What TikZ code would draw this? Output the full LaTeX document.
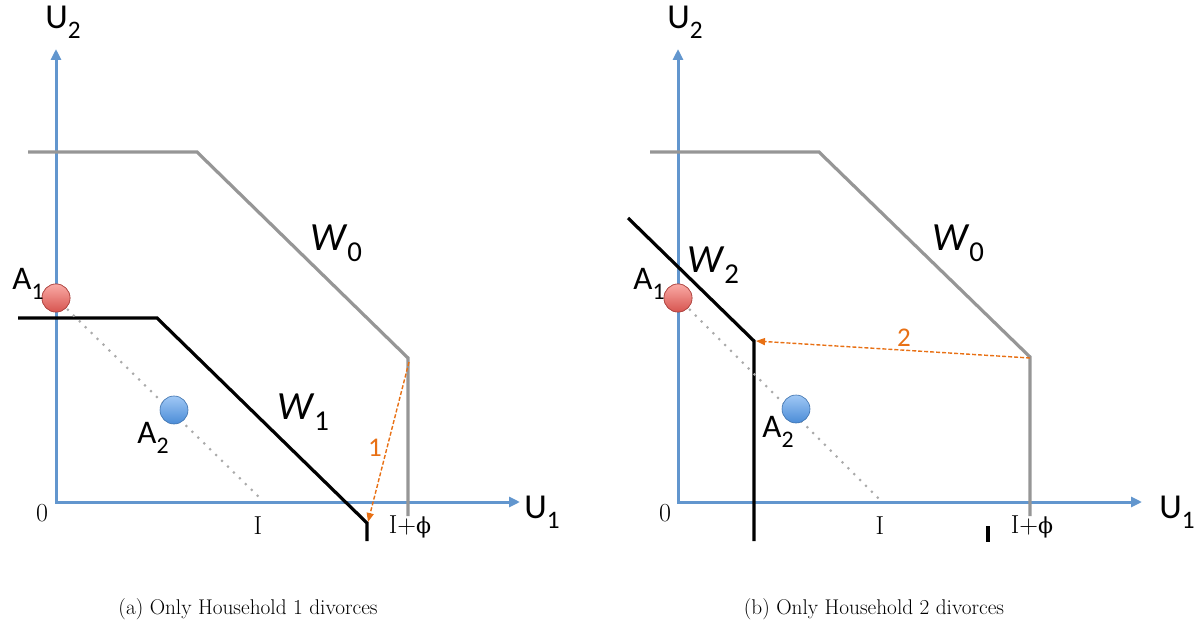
\documentclass[tikz,border=0pt]{standalone}
\usepackage{fontspec}
\newfontfamily\carl{Carlito}
\newfontfamily\dvserif{DejaVu Serif}
\usetikzlibrary{arrows.meta}
\definecolor{axisblue}{RGB}{98,150,206}
\definecolor{wgray}{RGB}{150,150,150}
\definecolor{dotgray}{RGB}{170,170,170}
\definecolor{arrorange}{RGB}{232,112,20}
\definecolor{redlight}{RGB}{250,170,165}
\definecolor{reddark}{RGB}{215,85,80}
\definecolor{bluelight}{RGB}{160,200,245}
\definecolor{bluedark}{RGB}{75,140,215}
\newcommand\sbs[1]{\raisebox{-0.28em}{\scalebox{0.72}{#1}}}
\tikzset{
  axis/.style={draw=axisblue, line width=3pt, {Triangle[length=11pt,width=10pt]}-{Triangle[length=11pt,width=10pt]}},
  wzero/.style={draw=wgray, line width=3.2pt},
  wone/.style={draw=black, line width=3.2pt},
  dotl/.style={draw=dotgray, line width=3pt, line cap=round, dash pattern=on 0pt off 8.3pt},
  oarrow/.style={draw=arrorange, line width=1.4pt, dash pattern=on 4pt off 2pt, -{Triangle[length=9pt,width=7pt]}},
  redball/.style={circle, minimum size=28pt, inner sep=0pt, draw=reddark!80!black, line width=0.6pt, top color=redlight, bottom color=reddark},
  blueball/.style={circle, minimum size=28pt, inner sep=0pt, draw=bluedark!80!black, line width=0.6pt, top color=bluelight, bottom color=bluedark},
  ulab/.style={font=\carl\fontsize{35}{37}\selectfont, inner sep=0pt},
  alab/.style={font=\carl\fontsize{33}{35}\selectfont, inner sep=0pt},
  wlab/.style={font=\carl\fontsize{40}{42}\selectfont, inner sep=0pt},
  slab/.style={font=\fontsize{26}{28}\selectfont, inner sep=0pt},
  olab/.style={font=\carl\fontsize{27}{29}\selectfont, text=arrorange, inner sep=0pt},
  captxt/.style={font=\fontsize{21.3}{23}\selectfont, inner sep=0pt}
}
\begin{document}
\begin{tikzpicture}[x=1pt,y=-1pt]
\useasboundingbox (0,0) rectangle (1202,628);
% ---------------- left panel
\coordinate (aO) at (56,502);
\coordinate (aY) at (56,49);
\coordinate (aX) at (520,502);
\draw[axis] (aY) -- (aO) -- (aX);
\coordinate (a0a) at (28,152); \coordinate (a0b) at (197,152);
\coordinate (a0c) at (408,358); \coordinate (a0d) at (408,516);
\draw[wzero, line join=miter] (a0a) -- (a0b) -- (a0c) -- (a0d);
\coordinate (a1a) at (18,318); \coordinate (a1b) at (157,318);
\coordinate (a1c) at (367,523); \coordinate (a1d) at (367,541);
\draw[wone] (a1a) -- (a1b) -- (a1c) -- (a1d);
\coordinate (adE) at (262,500);
\node[redball] (aA1) at (56,298) {};
\draw[dotl] (aA1.center) ++(6,6) -- (adE);
\node[redball] at (aA1) {};
\node[blueball] (aA2) at (174,410) {};
\coordinate (ao1s) at (409,362); \coordinate (ao1e) at (368,522);
\draw[oarrow] (ao1s) -- (ao1e);
\node[ulab] (aU2) at (63,22) {U\sbs{2}};
\node[ulab] (aU1) at (542,512) {U\sbs{1}};
\node[alab] (aA1l) at (28,284) {A\sbs{1}};
\node[alab] (aA2l) at (153,438) {A\sbs{2}};
\node[wlab] (aW0) at (336,243) {\textit{W}\sbs{0}};
\node[wlab] (aW1) at (303,412) {\textit{W}\sbs{1}};
\node[slab] (a0) at (42,513) {0};
\node[slab] (aI) at (258,526) {I};
\node[slab] (aIp) at (410,527) {I+{\dvserif\fontsize{22}{24}\selectfont ϕ}};
\node[olab] (aone) at (375,448) {1};
\node[captxt] (acap) at (248,609) {(a) Only Household 1 divorces};
% ---------------- right panel
\coordinate (bO) at (678,502);
\coordinate (bY) at (678,49);
\coordinate (bX) at (1142,502);
\draw[axis] (bY) -- (bO) -- (bX);
\coordinate (b0a) at (650,152); \coordinate (b0b) at (819,152);
\coordinate (b0c) at (1030,357); \coordinate (b0d) at (1030,516);
\draw[wzero, line join=miter] (b0a) -- (b0b) -- (b0c) -- (b0d);
\coordinate (b2a) at (628,218); \coordinate (b2b) at (754,341);
\coordinate (b2c) at (754,541);
\draw[wone] (b2a) -- (b2b) -- (b2c);
\coordinate (btk1) at (988,526); \coordinate (btk2) at (988,542);
\draw[wone, line width=3.4pt] (btk1) -- (btk2);
\coordinate (bdE) at (880,500);
\node[redball] (bA1) at (678,298) {};
\draw[dotl] (bA1.center) ++(6,6) -- (bdE);
\node[redball] at (bA1) {};
\node[blueball] (bA2) at (796,409) {};
\coordinate (bo2s) at (1030,358); \coordinate (bo2e) at (756,341);
\draw[oarrow] (bo2s) -- (bo2e);
\node[ulab] (bU2) at (685,22) {U\sbs{2}};
\node[ulab] (bU1) at (1177,512) {U\sbs{1}};
\node[alab] (bA1l) at (649,284) {A\sbs{1}};
\node[alab] (bA2l) at (778,432) {A\sbs{2}};
\node[wlab] (bW0) at (958,243) {\textit{W}\sbs{0}};
\node[wlab] (bW2) at (713,265) {\textit{W}\sbs{2}};
\node[slab] (b0) at (665,513) {0};
\node[slab] (bI) at (880,526) {I};
\node[slab] (bIp) at (1032,527) {I+{\dvserif\fontsize{22}{24}\selectfont ϕ}};
\node[olab] (btwo) at (904,338) {2};
\node[captxt] (bcap) at (874,609) {(b) Only Household 2 divorces};
\end{tikzpicture}
\end{document}
